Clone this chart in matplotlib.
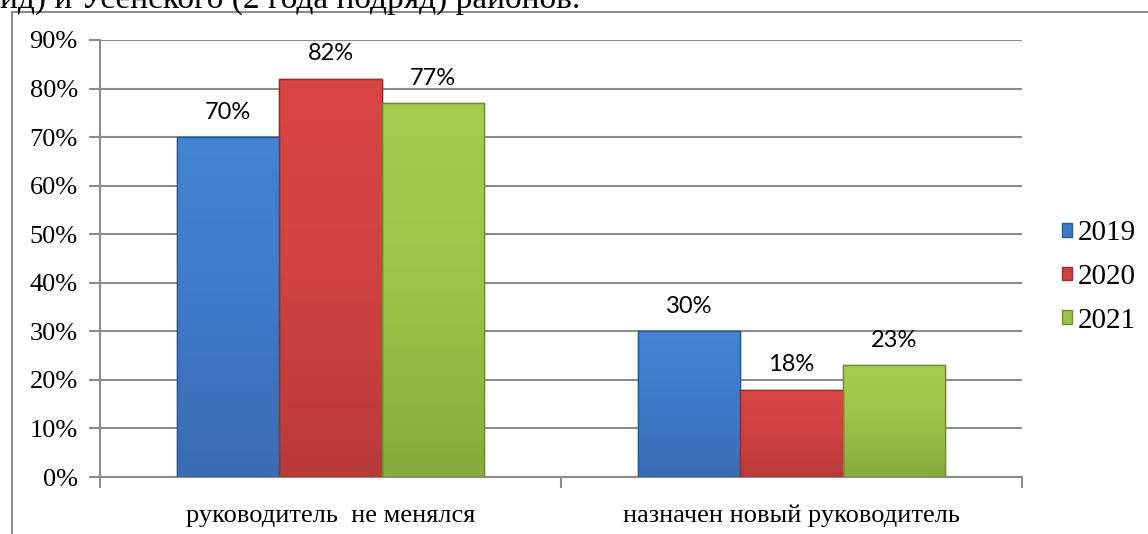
import matplotlib.pyplot as plt
import numpy as np
from matplotlib.colors import LinearSegmentedColormap
from matplotlib.lines import Line2D

categories = ["руководитель  не менялся", "назначен новый руководитель"]
years = ["2019", "2020", "2021"]
values = {
    "2019": [70, 30],
    "2020": [82, 18],
    "2021": [77, 23],
}
# (bottom, middle, top) shades for each series
shades = {
    "2019": ["#3a6cb4", "#3f7ac8", "#4384d4"],
    "2020": ["#b83a3a", "#d04242", "#d94646"],
    "2021": ["#86aa3e", "#9cc446", "#a4cc4c"],
}
edges = {"2019": "#2c5a94", "2020": "#9a2c2c", "2021": "#6e9030"}

W, H = 1148, 534
fig = plt.figure(figsize=(W / 100, H / 100), dpi=100)

# cut-off line of document text above the chart
fig.text(-0.5 / W, 1 - 8 / H, "ид) и Усенского (2 года подряд) районов.",
         family="Liberation Serif", fontsize=24, va="baseline", ha="left")

# chart frame (only left and top visible)
fig.add_artist(Line2D([11.5 / W, 11.5 / W], [0, 1 - 11.5 / H], transform=fig.transFigure,
                      color="#8c8c8c", lw=1.5))
fig.add_artist(Line2D([11.5 / W, 1], [1 - 11.5 / H, 1 - 11.5 / H], transform=fig.transFigure,
                      color="#8c8c8c", lw=1.5))

ax = fig.add_axes([100 / W, 1 - 477 / H, 922 / W, 437 / H])

x = np.arange(len(categories))
bw = 0.222
grad = np.linspace(0, 1, 256).reshape(-1, 1)
for i, y in enumerate(years):
    xs = x + (i - 1) * bw
    cmap = LinearSegmentedColormap.from_list(y, shades[y])
    bars = ax.bar(xs, values[y], bw, color=shades[y][1], edgecolor=edges[y],
                  linewidth=1.0, label=y, zorder=3)
    for b in bars:
        x0, y0 = b.get_x(), b.get_y()
        im = ax.imshow(grad, cmap=cmap, origin="lower", aspect="auto", zorder=3.5,
                       extent=[x0, x0 + b.get_width(), y0, y0 + b.get_height()])
        im.set_clip_path(b)
    # outline on top of the gradient
    ax.bar(xs, values[y], bw, fill=False, edgecolor=edges[y], linewidth=1.0, zorder=3.6)
    for xi, v in zip(xs, values[y]):
        ax.text(xi, v + 3, f"{v}%", ha="center", va="bottom", fontsize=17,
                family="Lato", zorder=4)

ax.set_xlim(-0.5, 1.5)
ax.set_ylim(0, 90)
ax.set_yticks(np.arange(0, 91, 10))
ax.set_yticklabels([f"{t}%" for t in range(0, 91, 10)], family="Liberation Serif", fontsize=19)
ax.yaxis.grid(True, color="#8c8c8c", lw=1.5, zorder=0)
ax.set_xticks([-0.5, 0.5, 1.5])
ax.set_xticklabels([])
ax.set_xticks(x, minor=True)
ax.set_xticklabels(categories, minor=True, family="Liberation Serif", fontsize=19)
ax.tick_params(axis="x", which="minor", length=0, pad=20)
ax.tick_params(axis="both", which="major", length=8, width=1.5, color="#8c8c8c")
ax.tick_params(axis="y", pad=8)

for s in ["top", "right"]:
    ax.spines[s].set_visible(False)
for s in ["left", "bottom"]:
    ax.spines[s].set_color("#8c8c8c")
    ax.spines[s].set_linewidth(1.5)

handles, labels = ax.get_legend_handles_labels()
fig.legend(handles, labels, loc="center left", bbox_to_anchor=(1062 / W, 1 - 277 / H),
           frameon=False, prop={"family": "Liberation Serif", "size": 21},
           handlelength=0.35, handleheight=0.35, handletextpad=0.2, labelspacing=0.6,
           borderpad=0, borderaxespad=0)

fig.savefig("out.png", dpi=100)
